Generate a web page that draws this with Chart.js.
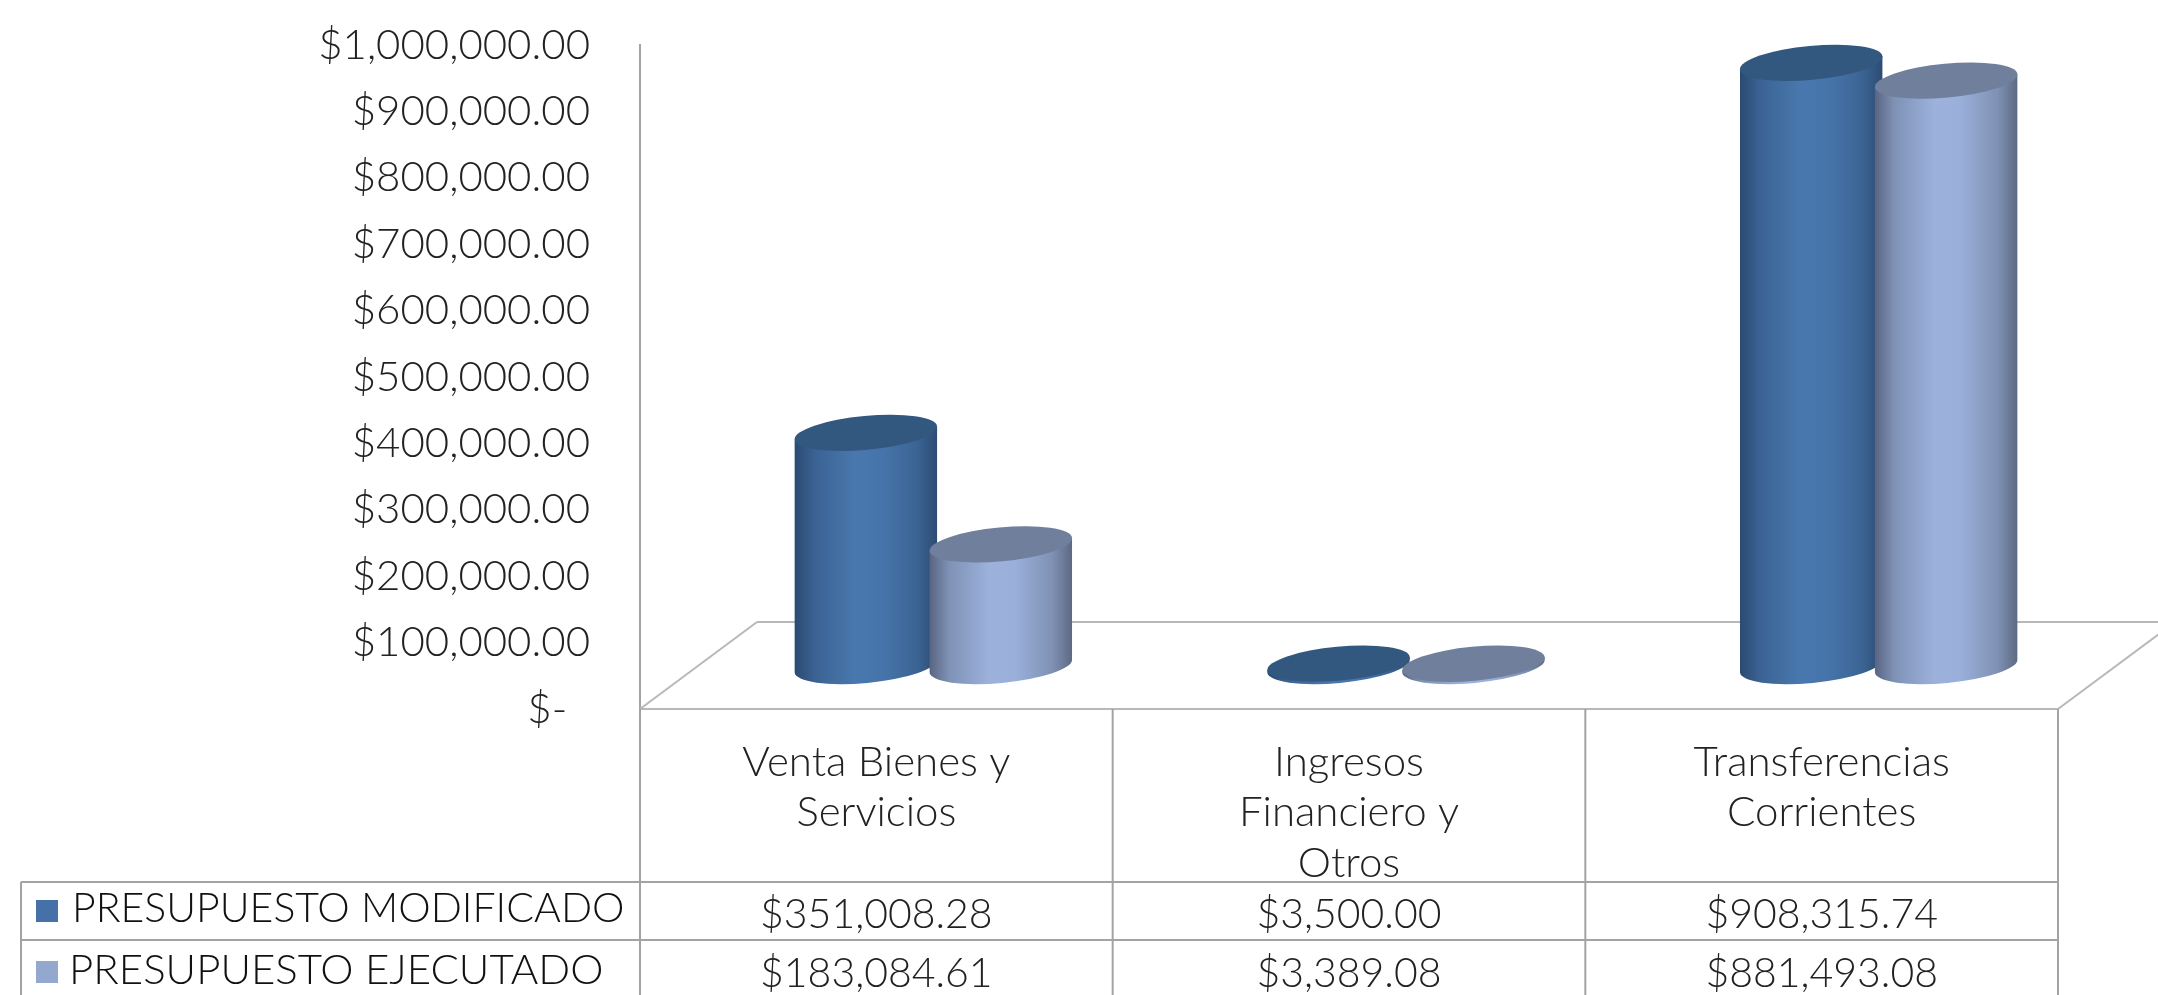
<!DOCTYPE html>
<html>
<head>
<meta charset="utf-8">
<style>
  html, body { margin: 0; padding: 0; background: #fff; overflow: hidden; }
  canvas { display: block; filter: blur(0.6px); }
</style>
<script src="https://cdn.jsdelivr.net/npm/chart.js@4/dist/chart.umd.min.js"></script>
</head>
<body>
<canvas id="chart" width="2158" height="995"></canvas>
<script>
const categories = [["Venta Bienes y", "Servicios"], ["Ingresos", "Financiero y", "Otros"], ["Transferencias", "Corrientes"]];
const seriesNames = ["PRESUPUESTO MODIFICADO", "PRESUPUESTO EJECUTADO"];
const presupuestoModificado = [351008.28, 3500.00, 908315.74];
const presupuestoEjecutado = [183084.61, 3389.08, 881493.08];

const money = (v) => "$" + v.toLocaleString("en-US", { minimumFractionDigits: 2, maximumFractionDigits: 2 });

const FONT = "Lato";
const lineColor = "#a3a3a3";

// gradient stops for the cylinder sides, and the flat colour of the top cap
const looks = [
  {
    cap: "#33587f", legend: "#4472a8",
    side: [[0, "#2a4a70"], [0.14, "#3b6293"], [0.42, "#4878ae"], [0.62, "#4674aa"], [0.86, "#3b6493"], [1, "#2c4b72"]]
  },
  {
    cap: "#6f7f9c", legend: "#94a8cf",
    side: [[0, "#586581"], [0.14, "#7f92b6"], [0.42, "#9cb2dc"], [0.6, "#9ab0da"], [0.86, "#7f91b4"], [1, "#5c6983"]]
  }
];

function line(ctx, x1, y1, x2, y2) {
  ctx.beginPath();
  ctx.moveTo(x1, y1);
  ctx.lineTo(x2, y2);
  ctx.stroke();
}

const frame = {
  id: "frame",
  beforeDatasetsDraw(chart) {
    const { ctx, chartArea: a, width } = chart;
    const dx = 117, dy = 87;
    ctx.save();
    ctx.strokeStyle = "#b8b8b8";
    ctx.lineWidth = 2;
    line(ctx, a.left, a.bottom, a.left + dx, a.bottom - dy);
    line(ctx, a.left + dx, a.bottom - dy, width, a.bottom - dy);
    line(ctx, a.right, a.bottom, a.right + dx, a.bottom - dy);
    line(ctx, a.left, a.bottom, a.right, a.bottom);
    ctx.restore();
  }
};

const cylinders = {
  id: "cylinders",
  afterDatasetsDraw(chart) {
    const { ctx } = chart;
    const y = chart.scales.y;
    const y0 = y.getPixelForValue(0);
    const dx = 57, dy = 43;
    const tilt = -5.3 * Math.PI / 180;
    chart.data.datasets.forEach((ds, d) => {
      const look = looks[d];
      chart.getDatasetMeta(d).data.forEach((bar, i) => {
        const rx = bar.width / 2, ry = 17;
        const cx = bar.x + dx;
        const base = y0 - dy;
        const top = y.getPixelForValue(ds.data[i]) - dy;
        const ex = rx * Math.cos(tilt), ey = rx * Math.sin(tilt);
        const g = ctx.createLinearGradient(cx - rx, 0, cx + rx, 0);
        look.side.forEach(s => g.addColorStop(s[0], s[1]));
        ctx.save();
        ctx.fillStyle = g;
        ctx.beginPath();
        ctx.moveTo(cx - ex, top - ey);
        ctx.lineTo(cx - ex, base - ey);
        ctx.ellipse(cx, base, rx, ry, tilt, Math.PI, 0, true);
        ctx.lineTo(cx + ex, top + ey);
        ctx.closePath();
        ctx.fill();
        ctx.fillStyle = look.cap;
        ctx.beginPath();
        ctx.ellipse(cx, top, rx, ry, tilt, 0, Math.PI * 2);
        ctx.fill();
        ctx.restore();
      });
    });
  }
};

const dataTable = {
  id: "dataTable",
  afterDraw(chart) {
    const { ctx, chartArea: a, height } = chart;
    const x = chart.scales.x;
    const rows = [882, 940];
    const left = 21;
    const rowText = [915, 974];
    const names = [[72, 909, 41], [69, 970, 42]];
    const marks = [900, 961];
    ctx.save();
    ctx.strokeStyle = lineColor;
    ctx.lineWidth = 2;
    rows.forEach(r => line(ctx, left, r, a.right, r));
    line(ctx, left, rows[0], left, height);
    [0, 1, 2, 3].forEach(i => {
      const px = a.left + (a.right - a.left) * i / 3;
      line(ctx, px, a.bottom, px, height);
    });
    ctx.textBaseline = "middle";
    chart.data.datasets.forEach((ds, d) => {
      ctx.fillStyle = looks[d].legend;
      ctx.fillRect(36, marks[d], 22, 22);
      ctx.fillStyle = "#111";
      ctx.textAlign = "left";
      ctx.font = "300 " + names[d][2] + "px " + FONT;
      ctx.fillText(seriesNames[d], names[d][0], names[d][1]);
      ctx.fillStyle = "#222";
      ctx.textAlign = "center";
      ctx.font = "300 41px " + FONT;
      ds.data.forEach((v, i) => ctx.fillText(money(v), x.getPixelForValue(i), rowText[d]));
    });
    ctx.restore();
  }
};

new Chart(document.getElementById("chart"), {
  type: "bar",
  data: {
    labels: categories,
    datasets: [
      { label: seriesNames[0], data: presupuestoModificado, backgroundColor: "transparent" },
      { label: seriesNames[1], data: presupuestoEjecutado, backgroundColor: "transparent" }
    ]
  },
  options: {
    responsive: false,
    animation: false,
    layout: { padding: { top: 45, right: 100, left: 0, bottom: 0 } },
    datasets: { bar: { categoryPercentage: 0.571, barPercentage: 1.06 } },
    plugins: { legend: { display: false }, tooltip: { enabled: false } },
    scales: {
      x: {
        grid: { display: false },
        border: { display: false },
        afterFit(scale) { scale.height = 286; },
        ticks: {
          autoSkip: false,
          maxRotation: 0,
          padding: 20,
          color: "#222",
          font: { family: FONT, size: 42, weight: 300, lineHeight: 1.2 }
        }
      },
      y: {
        min: 0,
        max: 1000000,
        grid: { display: false, drawTicks: false },
        border: { display: true, color: lineColor, width: 2 },
        afterFit(scale) {
          scale.width = 640;
          scale.paddingTop = 0;
          scale.paddingBottom = 0;
        },
        ticks: {
          stepSize: 100000,
          padding: 50,
          color: "#222",
          font: { family: FONT, size: 42, weight: 300 },
          callback: (v) => v === 0 ? "$-  " : money(v)
        }
      }
    }
  },
  plugins: [frame, cylinders, dataTable]
});
</script>
</body>
</html>
